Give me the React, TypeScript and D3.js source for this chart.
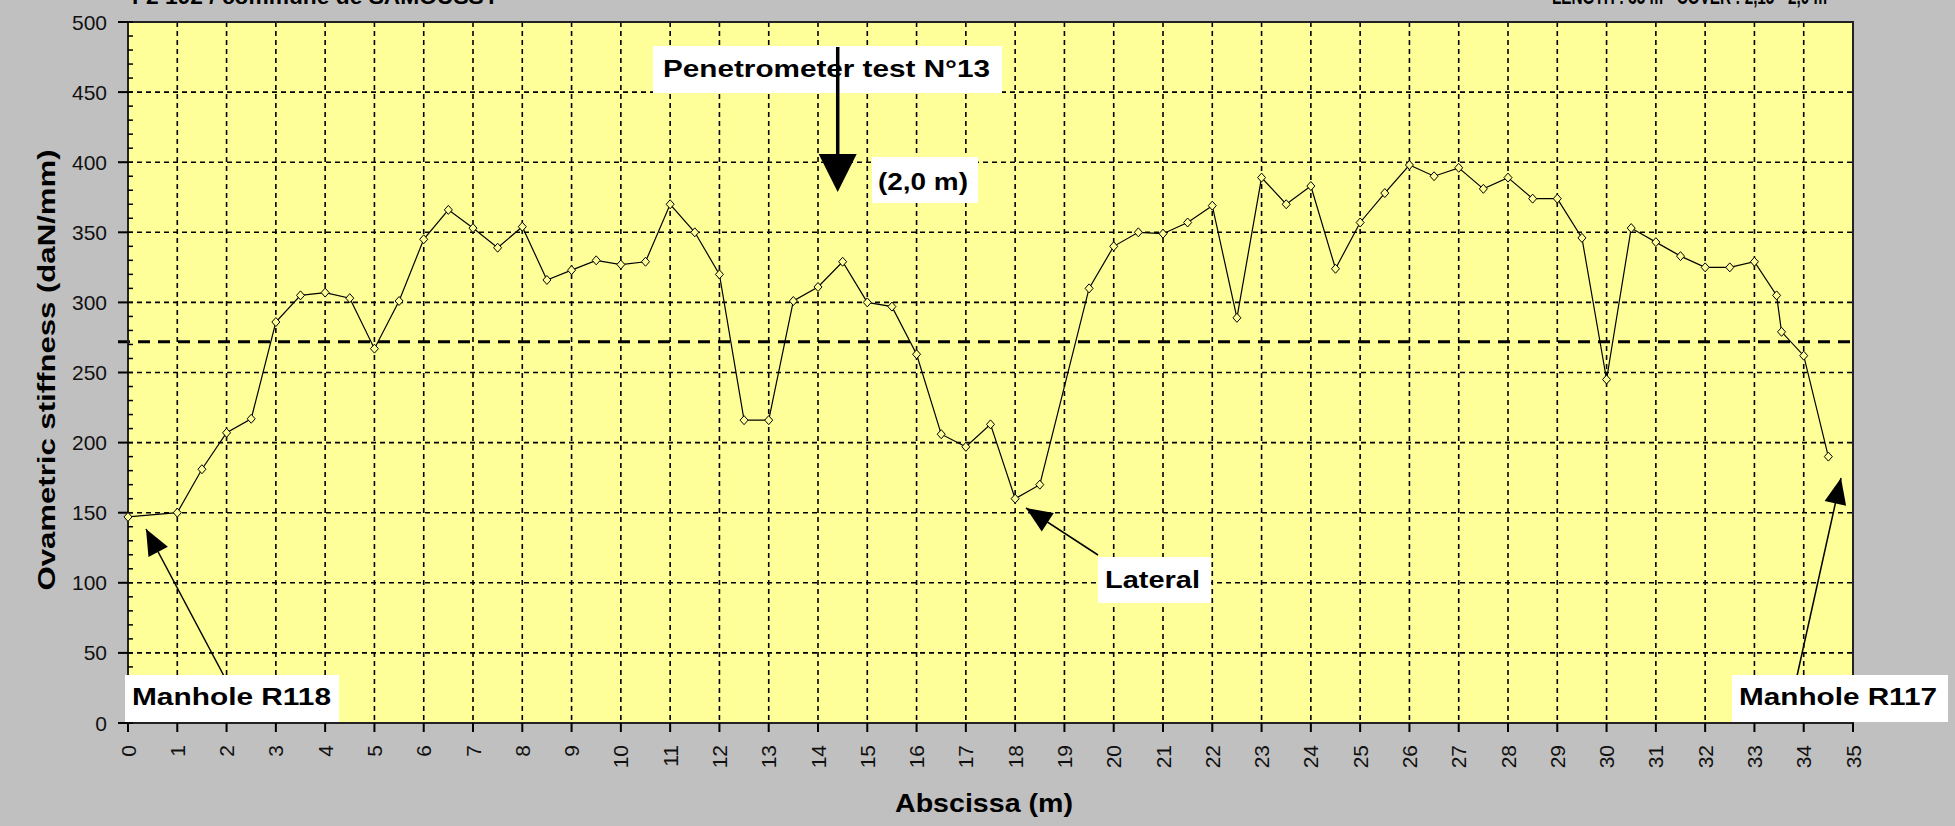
import React from "react";
import * as d3 from "d3";

// Abscissa along the pipe (m) and measured ovametric stiffness (daN/mm)
const abscissa = [
  0, 1, 1.5, 2, 2.5, 3, 3.5, 4, 4.5, 5, 5.5, 6, 6.5, 7, 7.5, 8, 8.5, 9, 9.5, 10,
  10.5, 11, 11.5, 12, 12.5, 13, 13.5, 14, 14.5, 15, 15.5, 16, 16.5, 17, 17.5, 18,
  18.5, 19.5, 20, 20.5, 21, 21.5, 22, 22.5, 23, 23.5, 24, 24.5, 25, 25.5, 26, 26.5,
  27, 27.5, 28, 28.5, 29, 29.5, 30, 30.5, 31, 31.5, 32, 32.5, 33, 33.45, 33.55, 34, 34.5,
];
const stiffness = [
  147, 150, 181, 207, 217, 286, 305, 307, 303, 267, 301, 345, 366, 353, 339, 354, 316, 323, 330, 327,
  329, 370, 350, 320, 216, 216, 301, 311, 329, 300, 297, 263, 206, 197, 213, 160,
  170, 310, 340, 350, 349, 357, 369, 289, 389, 370, 383, 324, 357, 378, 398, 390,
  396, 381, 389, 374, 374, 346, 245, 353, 343, 333, 325, 325, 329, 305, 279, 262, 190,
];
const threshold = 272;

const xTicks = d3.range(0, 36);
const yTicks = d3.range(0, 501, 50);
const yMinorTicks = d3.range(0, 501, 10);

const headerLeft = "F2 102 / commune de SAMOUSSY";
const headerRight = "LENGTH : 35 m - COVER : 2,15 - 2,0 m";

const W = 1955;
const H = 826;
const plot = { left: 128, right: 1853, top: 22, bottom: 723 };
const FONT = "'Liberation Sans', Arial, sans-serif";

export default function App() {
  const x = d3.scaleLinear().domain([0, 35]).range([plot.left, plot.right]);
  const y = d3.scaleLinear().domain([0, 500]).range([plot.bottom, plot.top]);
  const pts = abscissa.map((a, i) => [a, stiffness[i]] as [number, number]);
  const line = d3
    .line<[number, number]>()
    .x((d) => x(d[0]))
    .y((d) => y(d[1]));

  const diamond = (cx: number, cy: number) =>
    `M${cx},${cy - 4.5}L${cx + 4},${cy}L${cx},${cy + 4.5}L${cx - 4},${cy}Z`;

  const arrowHead = (x1: number, y1: number, x2: number, y2: number, len: number, half: number) => {
    const ang = Math.atan2(y2 - y1, x2 - x1);
    const bx = x2 - len * Math.cos(ang);
    const by = y2 - len * Math.sin(ang);
    const px = -Math.sin(ang) * half;
    const py = Math.cos(ang) * half;
    return `M${x2},${y2}L${bx + px},${by + py}L${bx - px},${by - py}Z`;
  };

  const label = (
    text: string,
    bx: number,
    by: number,
    bw: number,
    bh: number,
    tx: number,
    ty: number,
    tl: number
  ) => (
    <g>
      <rect x={bx} y={by} width={bw} height={bh} fill="#fff" />
      <text
        x={tx}
        y={ty}
        fontFamily={FONT}
        fontWeight="bold"
        fontSize={24}
        textLength={tl}
        lengthAdjust="spacingAndGlyphs"
      >
        {text}
      </text>
    </g>
  );

  // Arrow geometry for the annotations
  const pen = { x: x(14.4), y1: 47, y2: 192 };
  const lat = { x1: 1098, y1: 555, x2: 1026, y2: 508 };
  const m118 = { x1: 224, y1: 676, x2: 146, y2: 529 };
  const m117 = { x1: 1797, y1: 676, x2: 1841, y2: 478 };

  return (
    <svg
      width={W}
      height={H}
      style={{ position: "absolute", left: 0, top: 0, display: "block" }}
    >
      <rect x={0} y={0} width={W} height={H} fill="#c0c0c0" />

      {/* header lines, partly above the top edge */}
      <text x={132} y={4} fontFamily={FONT} fontWeight="bold" fontSize={22} textLength={367} lengthAdjust="spacingAndGlyphs">
        {headerLeft}
      </text>
      <text x={1552} y={4} fontFamily={FONT} fontWeight="bold" fontSize={22} textLength={275} lengthAdjust="spacingAndGlyphs">
        {headerRight}
      </text>

      <rect
        x={plot.left}
        y={plot.top}
        width={plot.right - plot.left}
        height={plot.bottom - plot.top}
        fill="#ffff99"
      />

      {/* grid */}
      {xTicks.slice(1, -1).map((t) => (
        <line key={"gx" + t} x1={x(t)} x2={x(t)} y1={plot.top} y2={plot.bottom} stroke="#000" strokeWidth={1.6} strokeDasharray="5,4" />
      ))}
      {yTicks.slice(1, -1).map((t) => (
        <line key={"gy" + t} x1={plot.left} x2={plot.right} y1={y(t)} y2={y(t)} stroke="#000" strokeWidth={1.6} strokeDasharray="5,4" />
      ))}

      {/* threshold */}
      <line x1={plot.left - 10} x2={plot.right} y1={y(threshold)} y2={y(threshold)} stroke="#000" strokeWidth={3} strokeDasharray="12,8" />

      {/* border and axes */}
      <rect
        x={plot.left}
        y={plot.top}
        width={plot.right - plot.left}
        height={plot.bottom - plot.top}
        fill="none"
        stroke="#222"
        strokeWidth={2}
      />
      {yMinorTicks.map((t) => (
        <line key={"ym" + t} x1={plot.left} x2={plot.left + 5} y1={y(t)} y2={y(t)} stroke="#000" strokeWidth={1.5} />
      ))}
      {yTicks.map((t) => (
        <g key={"yt" + t}>
          <line x1={plot.left - 10} x2={plot.left} y1={y(t)} y2={y(t)} stroke="#000" strokeWidth={2} />
          <text x={107} y={y(t)} dy="0.36em" textAnchor="end" fontFamily={FONT} fontSize={21} fill="#111">
            {t}
          </text>
        </g>
      ))}
      {xTicks.map((t) => (
        <g key={"xt" + t}>
          <line x1={x(t)} x2={x(t)} y1={plot.bottom} y2={plot.bottom + 9} stroke="#000" strokeWidth={2} />
          <text
            transform={`translate(${x(t)},${745}) rotate(-90)`}
            dy="0.36em"
            textAnchor="end"
            fontFamily={FONT}
            fontSize={21}
            fill="#111"
          >
            {t}
          </text>
        </g>
      ))}

      {/* axis titles */}
      <text
        transform={`translate(${46},${370}) rotate(-90)`}
        textAnchor="middle"
        dy="0.36em"
        fontFamily={FONT}
        fontWeight="bold"
        fontSize={24}
        textLength={441}
        lengthAdjust="spacingAndGlyphs"
      >
        Ovametric stiffness (daN/mm)
      </text>
      <text
        x={984}
        y={812}
        textAnchor="middle"
        fontFamily={FONT}
        fontWeight="bold"
        fontSize={25}
        textLength={178}
        lengthAdjust="spacingAndGlyphs"
      >
        Abscissa (m)
      </text>

      {/* series */}
      <path d={line(pts) || ""} fill="none" stroke="#000" strokeWidth={1.2} />
      {pts.map((d, i) => (
        <path key={"m" + i} d={diamond(x(d[0]), y(d[1]))} fill="#ffff99" stroke="#000" strokeWidth={1} />
      ))}

      {/* annotations */}
      {label("Penetrometer test N°13", 653, 46, 349, 47, 663, 77, 327)}
      <line x1={pen.x} x2={pen.x} y1={pen.y1} y2={pen.y2 - 30} stroke="#000" strokeWidth={3.5} />
      <path d={arrowHead(pen.x, pen.y1, pen.x, pen.y2, 38, 19)} fill="#000" />
      {label("(2,0 m)", 872, 157, 106, 46, 878, 190, 90)}

      <line x1={lat.x1} x2={lat.x2} y1={lat.y1} y2={lat.y2} stroke="#000" strokeWidth={1.5} />
      <path d={arrowHead(lat.x1, lat.y1, lat.x2, lat.y2, 26, 11)} fill="#000" />
      {label("Lateral", 1098, 557, 113, 46, 1105, 588, 95)}

      <line x1={m118.x1} x2={m118.x2} y1={m118.y1} y2={m118.y2} stroke="#000" strokeWidth={1.5} />
      <path d={arrowHead(m118.x1, m118.y1, m118.x2, m118.y2, 26, 11)} fill="#000" />
      {label("Manhole R118", 125, 675, 214, 47, 132, 705, 199)}

      <line x1={m117.x1} x2={m117.x2} y1={m117.y1} y2={m117.y2} stroke="#000" strokeWidth={1.5} />
      <path d={arrowHead(m117.x1, m117.y1, m117.x2, m117.y2, 26, 11)} fill="#000" />
      {label("Manhole R117", 1732, 675, 216, 47, 1739, 705, 198)}
    </svg>
  );
}
